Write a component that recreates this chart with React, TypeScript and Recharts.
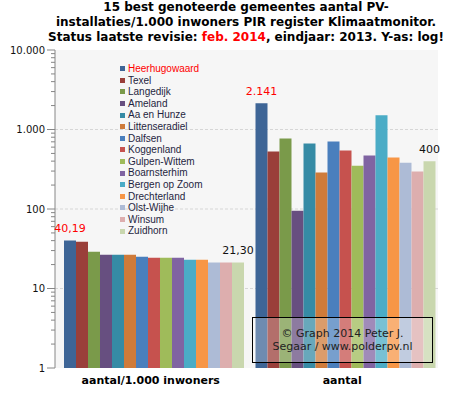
import React from 'react';
import {
  BarChart, Bar, XAxis, YAxis, CartesianGrid, Legend, LabelList,
} from 'recharts';

const categories = ['aantal/1.000 inwoners', 'aantal'];
const municipalities = [
  'Heerhugowaard', 'Texel', 'Langedijk', 'Ameland', 'Aa en Hunze', 'Littenseradiel',
  'Dalfsen', 'Koggenland', 'Gulpen-Wittem', 'Boarnsterhim', 'Bergen op Zoom',
  'Drechterland', 'Olst-Wijhe', 'Winsum', 'Zuidhorn',
];
const perThousand = [40.19, 38.6, 29.0, 26.6, 26.6, 26.6, 25.1, 24.4, 24.4, 24.4, 23.0, 23.0, 21.3, 21.3, 21.3];
const totals = [2141, 530, 772, 95, 668, 288, 708, 545, 349, 471, 1506, 445, 383, 296, 400];
const colors = [
  '#3E6596', '#9A3F3A', '#7A9A4A', '#674F80', '#368BA5', '#CF7B3A', '#4A7FBD',
  '#C6524E', '#9FBB5A', '#8064A2', '#4BACC6', '#F79646', '#ADBBD6', '#DDAEAE', '#C9D7AE',
];
const majorTicks = [1, 10, 100, 1000, 10000];
const minorMultipliers = [2, 3, 4, 5, 6, 7, 8, 9];
const gridValues = [10, 100, 1000];

const allTicks: number[] = [];
majorTicks.forEach((t, i) => {
  allTicks.push(t);
  if (i < majorTicks.length - 1) minorMultipliers.forEach((m) => allTicks.push(t * m));
});

const data = categories.map((cat, ci) => {
  const row: Record<string, any> = { cat };
  municipalities.forEach((_, i) => {
    row[`s${i}`] = ci === 0 ? perThousand[i] : totals[i];
  });
  return row;
});

const thousands = (v: number) => String(Math.round(v)).replace(/\B(?=(\d{3})+(?!\d))/g, '.');
const formatValue = (v: number, catIndex: number) =>
  catIndex === 0 ? v.toFixed(2).replace('.', ',') : thousands(v);

const FONT = '"DejaVu Sans", Verdana, sans-serif';

const YTick = (props: any) => {
  const { x, y, payload } = props;
  const v = payload.value;
  const isMajor = majorTicks.includes(v);
  const axisX = x + 10;
  return (
    <g>
      <line x1={axisX - (isMajor ? 8 : 4)} x2={axisX} y1={y} y2={y} stroke="#868686" />
      {isMajor && (
        <text x={x} y={y} dy="0.355em" textAnchor="end" fontSize={10} fill="#111" fontFamily={FONT}>
          {thousands(v)}
        </text>
      )}
    </g>
  );
};

const makeLabel = (color: string) => (props: any) => {
  const { x, y, width, value, index } = props;
  return (
    <text x={x + width / 2} y={y - 8} textAnchor="middle" fontSize={11} fill={color} fontFamily={FONT}>
      {formatValue(value, index)}
    </text>
  );
};

const LegendContent = () => (
  <div style={{ fontFamily: '"Liberation Sans", Arial, sans-serif', fontSize: 10 }}>
    {municipalities.map((m, i) => (
      <div key={m} style={{ height: 11.6, display: 'flex', alignItems: 'center', whiteSpace: 'nowrap' }}>
        <span style={{ display: 'inline-block', width: 5, height: 5, background: colors[i], marginRight: 3 }} />
        <span style={{ color: i === 0 ? '#FF0000' : '#1F1F3F', lineHeight: '11.6px' }}>{m}</span>
      </div>
    ))}
  </div>
);

export default function App() {
  return (
    <div style={{ position: 'absolute', left: 0, top: 0, width: 451, height: 399, background: '#fff', overflow: 'hidden' }}>
      <div
        style={{
          position: 'absolute', left: 46, top: 0, width: 400, textAlign: 'center',
          fontFamily: FONT, fontWeight: 'bold', fontSize: 12, lineHeight: '15px', color: '#000', whiteSpace: 'nowrap',
        }}
      >
        <div>15 best genoteerde gemeentes aantal PV-</div>
        <div>installaties/1.000 inwoners PIR register Klimaatmonitor.</div>
        <div>
          Status laatste revisie: <span style={{ color: '#FF0000' }}>feb. 2014</span>, eindjaar: 2013. Y-as: log!
        </div>
      </div>
      <div style={{ position: 'absolute', left: 0, top: 0 }}>
        <BarChart
          width={451}
          height={399}
          data={data}
          margin={{ top: 50, right: 13, bottom: 0, left: 0 }}
          barCategoryGap={9}
          barGap={0}
          style={{ fontFamily: FONT }}
        >
          <CartesianGrid
            vertical={false}
            horizontalValues={gridValues}
            stroke="#D6D6D6"
            strokeDasharray="3 2"
            fill="#F6F6F6"
          />
          <XAxis
            xAxisId="edges"
            type="number"
            domain={[0, 2]}
            ticks={[0, 1, 2]}
            tick={false}
            tickSize={5}
            height={0}
            axisLine={{ stroke: '#868686' }}
            tickLine={{ stroke: '#868686' }}
          />
          <XAxis
            dataKey="cat"
            height={31}
            tickLine={false}
            axisLine={false}
            tick={{ fontSize: 11, fontWeight: 'bold', fill: '#000', fontFamily: FONT }}
          />
          <XAxis
            xAxisId="top"
            orientation="top"
            type="number"
            domain={[0, 1]}
            height={0}
            tick={false}
            tickLine={false}
            axisLine={{ stroke: '#000' }}
          />
          <YAxis
            scale="log"
            domain={[1, 10000]}
            allowDataOverflow
            ticks={allTicks}
            interval={0}
            width={55}
            tickSize={8}
            tickMargin={2}
            tickLine={false}
            axisLine={{ stroke: '#868686' }}
            tick={<YTick />}
          />
          <YAxis
            yAxisId="right"
            orientation="right"
            type="number"
            domain={[0, 1]}
            width={0}
            tick={false}
            tickLine={false}
            axisLine={{ stroke: '#000' }}
          />
          <Legend
            layout="vertical"
            align="center"
            verticalAlign="middle"
            content={<LegendContent />}
            wrapperStyle={{ left: 120, top: 63, width: 'auto', height: 'auto' }}
          />
          {municipalities.map((m, i) => (
            <Bar key={m} dataKey={`s${i}`} name={m} fill={colors[i]} isAnimationActive={false}>
              {i === 0 && <LabelList dataKey={`s${i}`} content={makeLabel('#FF0000')} />}
              {i === municipalities.length - 1 && <LabelList dataKey={`s${i}`} content={makeLabel('#111')} />}
            </Bar>
          ))}
        </BarChart>
      </div>
      <div
        style={{
          position: 'absolute', left: 252, top: 317, width: 179, height: 44,
          border: '1px solid #000', background: 'rgba(255,255,255,0.25)',
          display: 'flex', flexDirection: 'column', alignItems: 'center', justifyContent: 'center',
          fontFamily: FONT, fontSize: 11, lineHeight: '13px', color: '#222',
        }}
      >
        <div>© Graph 2014 Peter J.</div>
        <div>Segaar / www.polderpv.nl</div>
      </div>
    </div>
  );
}
